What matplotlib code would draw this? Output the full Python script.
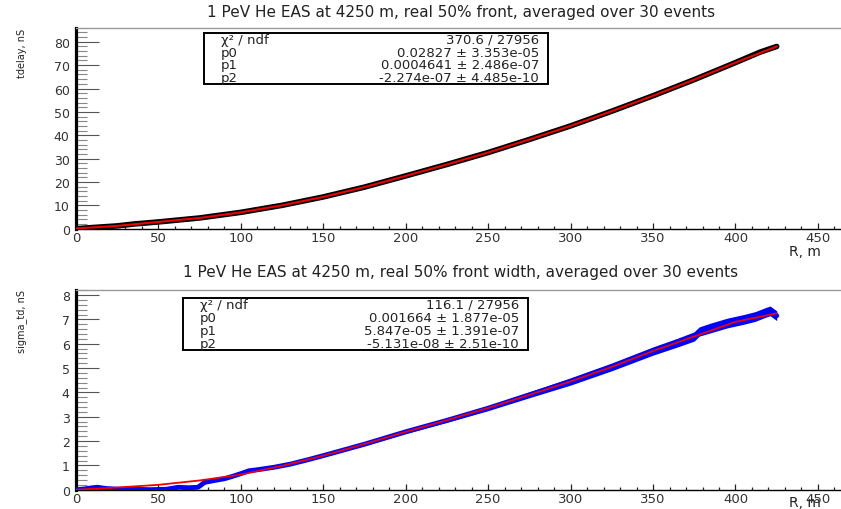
import matplotlib
matplotlib.use("Agg")
import matplotlib.pyplot as plt
import numpy as np
from matplotlib.patches import Rectangle
from matplotlib.ticker import MultipleLocator

W, H = 841, 510

# --- top panel: delay vs distance ---
r_delay = [0, 10, 25, 35, 50, 75, 100, 125, 150, 175, 200, 225, 250, 275,
           300, 325, 350, 375, 400, 415, 425]
t_delay = [0.0, 0.5, 1.2, 2.0, 2.9, 4.6, 7.0, 10.0, 13.6, 17.8, 22.6, 27.5,
           32.6, 38.2, 44.0, 50.3, 56.9, 63.8, 71.1, 75.6, 78.0]
r_delay_fit = [0, 25, 50, 75, 100, 125, 150, 175, 200, 225, 250, 275, 300,
               325, 350, 375, 400, 425]
t_delay_fit = [0.1, 1.2, 2.9, 4.6, 7.0, 10.0, 13.6, 17.8, 22.6, 27.5, 32.6,
               38.2, 44.0, 50.3, 56.9, 63.8, 71.1, 78.0]
stats_delay = [("χ² / ndf", "370.6 / 27956"),
               ("p0", "0.02827 ± 3.353e-05"),
               ("p1", "0.0004641 ± 2.486e-07"),
               ("p2", "-2.274e-07 ± 4.485e-10")]

# --- bottom panel: front width vs distance ---
r_sig = [0, 5, 10, 13, 18, 25, 35, 45, 55, 62, 68, 74, 78, 84, 90, 95, 100,
         105, 110, 120, 130, 140, 150, 175, 200, 225, 250, 275, 300, 325, 350,
         365, 375, 378, 385, 395, 405, 412, 418, 421, 425]
sig = [0.0, 0.03, 0.08, 0.1, 0.05, 0.02, 0.02, 0.0, 0.02, 0.1, 0.08, 0.1,
       0.3, 0.38, 0.45, 0.55, 0.66, 0.78, 0.82, 0.92, 1.05, 1.22, 1.4, 1.87,
       2.38, 2.85, 3.35, 3.9, 4.45, 5.05, 5.7, 6.05, 6.3, 6.5, 6.65, 6.85,
       7.0, 7.12, 7.28, 7.35, 7.15]
sig_err = [0.02, 0.02, 0.02, 0.02, 0.02, 0.02, 0.02, 0.02, 0.02, 0.02, 0.02,
           0.02, 0.03, 0.03, 0.03, 0.03, 0.03, 0.03, 0.03, 0.04, 0.04, 0.04,
           0.05, 0.06, 0.07, 0.08, 0.1, 0.12, 0.15, 0.16, 0.17, 0.18, 0.19,
           0.19, 0.2, 0.2, 0.2, 0.2, 0.2, 0.2, 0.2]
r_sig_fit = [0, 25, 50, 75, 100, 125, 150, 175, 200, 225, 250, 275, 300, 325,
             350, 375, 400, 425]
sig_fit = [0.0, 0.09, 0.2, 0.38, 0.62, 0.98, 1.4, 1.88, 2.38, 2.86, 3.36,
           3.9, 4.45, 5.05, 5.7, 6.3, 6.9, 7.25]
stats_sig = [("χ² / ndf", "116.1 / 27956"),
             ("p0", "0.001664 ± 1.877e-05"),
             ("p1", "5.847e-05 ± 1.391e-07"),
             ("p2", "-5.131e-08 ± 2.51e-10")]

TITLE_DELAY = "1 PeV He EAS at 4250 m, real 50% front, averaged over 30 events"
TITLE_SIG = "1 PeV He EAS at 4250 m, real 50% front width, averaged over 30 events"

INK = "#222222"

plt.rcParams["font.family"] = ["DejaVu Sans"]
fig = plt.figure(figsize=(W / 100, H / 100), dpi=100)
fig.patch.set_facecolor("white")


def fx(x):
    return x / W


def fy(y):
    return 1 - y / H


def style_axes(ax, ymax, ymajor, yminor):
    ax.xaxis.set_major_locator(MultipleLocator(50))
    ax.xaxis.set_minor_locator(MultipleLocator(10))
    ax.yaxis.set_major_locator(MultipleLocator(ymajor))
    ax.yaxis.set_minor_locator(MultipleLocator(yminor))
    ax.set_xlim(0, 464)
    ax.set_ylim(0, ymax)
    ax.tick_params(axis="y", which="major", direction="in", length=16.5,
                   width=0.8, color="#555555", pad=4.5, labelsize=9,
                   labelcolor="#333333")
    ax.tick_params(axis="y", which="minor", direction="in", length=8,
                   width=0.8, color="#888888")
    ax.tick_params(axis="x", which="major", direction="in", length=4.5,
                   width=0.9, color=INK, pad=1.5, labelsize=9.5,
                   labelcolor="#333333")
    ax.tick_params(axis="x", which="minor", direction="in", length=2.3,
                   width=0.9, color=INK)
    ax.spines["left"].set_linewidth(2.3)
    ax.spines["left"].set_color("black")
    ax.spines["bottom"].set_linewidth(1.0)
    ax.spines["bottom"].set_color("black")
    ax.spines["top"].set_linewidth(1.0)
    ax.spines["top"].set_color("#999999")
    ax.spines["right"].set_visible(False)


def stats_box(x0, y0, x1, y1, rows):
    fig.add_artist(Rectangle((fx(x0), fy(y1)), fx(x1) - fx(x0),
                             fy(y0) - fy(y1), transform=fig.transFigure,
                             facecolor="white", edgecolor="black", lw=1.4,
                             zorder=5))
    step = (y1 - y0) / len(rows)
    for i, (name, val) in enumerate(rows):
        yc = y0 + step * (i + 0.5)
        fig.text(fx(x0 + 17), fy(yc), name, ha="left", va="center",
                 fontsize=9.5, color=INK, zorder=6)
        fig.text(fx(x1 - 9), fy(yc), val, ha="right", va="center",
                 fontsize=9.5, color=INK, zorder=6)


# ---------------- top panel ----------------
ax1 = fig.add_axes([fx(76), fy(229.7), fx(841) - fx(76), fy(29) - fy(229.7)])
ax1.plot(r_delay, t_delay, color="black", lw=4.0, solid_capstyle="round",
         zorder=3)
ax1.plot(r_delay_fit, t_delay_fit, color="#ee0000", lw=1.5, zorder=4)
style_axes(ax1, 85.9, 10, 2)
fig.text(fx(461), fy(13), TITLE_DELAY, ha="center", va="center",
         fontsize=11, color=INK)
fig.text(fx(22), fy(29), "tdelay, nS", rotation=90, ha="center", va="top",
         fontsize=7, color=INK)
fig.text(fx(789), fy(245), "R, m", ha="left", va="top", fontsize=10,
         color=INK)
stats_box(204, 34, 548, 85, stats_delay)

# ---------------- bottom panel ----------------
ax2 = fig.add_axes([fx(76), fy(490.7), fx(841) - fx(76), fy(290.7) - fy(490.7)])
lo = np.array(sig) - np.array(sig_err)
hi = np.array(sig) + np.array(sig_err)
ax2.fill_between(r_sig, lo, hi, color="#0000ff", lw=0, zorder=2)
ax2.plot(r_sig, sig, color="#0000ff", lw=3.5, solid_capstyle="round",
         zorder=3)
ax2.plot(r_sig_fit, sig_fit, color="#ee0000", lw=1.3, zorder=4)
style_axes(ax2, 8.22, 1, 0.2)
fig.text(fx(461), fy(273), TITLE_SIG, ha="center", va="center",
         fontsize=11, color=INK)
fig.text(fx(22), fy(290), "sigma_td, nS", rotation=90, ha="center",
         va="top", fontsize=7, color=INK)
fig.text(fx(789), fy(496), "R, m", ha="left", va="top", fontsize=10,
         color=INK)
stats_box(183, 299, 528, 351, stats_sig)

fig.savefig("out.png", dpi=100, facecolor="white")
